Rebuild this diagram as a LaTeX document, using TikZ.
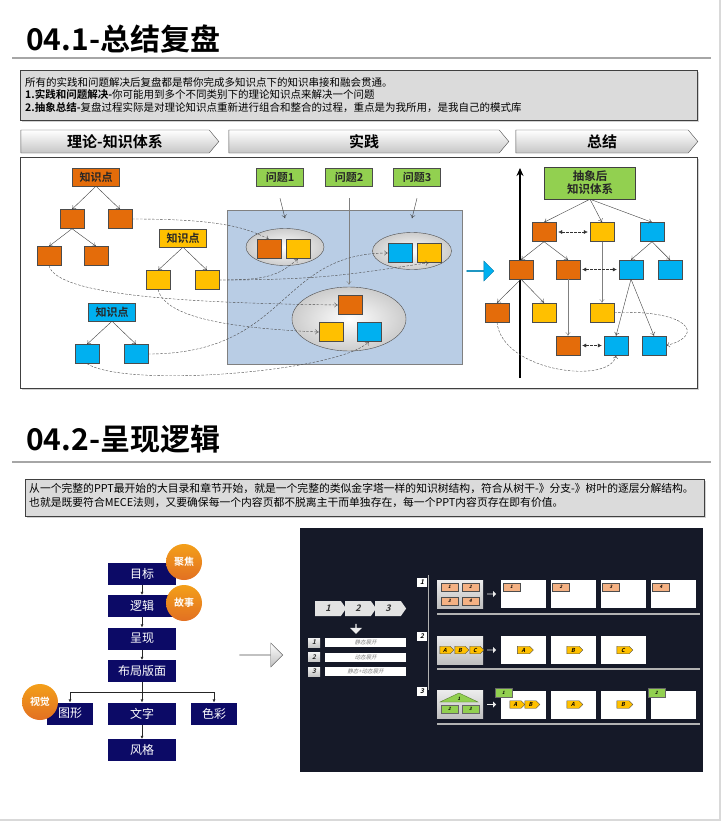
\documentclass[tikz,border=0pt]{standalone}
\usepackage{fontspec}
\setmainfont{Noto Sans CJK SC}[BoldFont={Noto Sans CJK SC Bold}]
\newfontfamily\slfont{Noto Sans CJK SC Bold}[FakeSlant=0.25]
\newfontfamily\slthin{Noto Sans CJK SC}[FakeSlant=0.25]
\usetikzlibrary{arrows.meta,shapes.geometric,shapes.symbols,shapes.arrows,shadows}

\definecolor{korange}{RGB}{228,108,10}
\definecolor{kyellow}{RGB}{255,192,0}
\definecolor{kblue}{RGB}{0,176,240}
\definecolor{kgreen}{RGB}{146,208,80}
\definecolor{kpanel}{RGB}{185,205,229}
\definecolor{knavy}{RGB}{12,10,102}
\definecolor{kdark}{RGB}{21,25,40}
\definecolor{ksalmon}{RGB}{244,177,131}
\definecolor{kcircle}{RGB}{238,118,36}

\tikzset{
	notebox/.style={draw=black!75, fill=gray!28, inner sep=0, drop shadow={shadow xshift=1.5pt, shadow yshift=-1.5pt, opacity=.35}},
	hdr/.style={signal, signal to=east, signal pointer angle=100, draw=black!70, top color=white, bottom color=gray!45, minimum height=23, inner sep=0, font=\fontsize{15}{15}\selectfont\bfseries},
	kbox/.style={draw=black!70, minimum width=24, minimum height=19, inner sep=0},
	klabel/.style={draw=black!70, minimum width=47, minimum height=18, inner sep=0, text=black!85, font=\fontsize{11}{11}\selectfont\bfseries},
	treearr/.style={-{To[length=3.5pt,width=5pt]}, black!75, thin},
	dlink/.style={dash pattern=on 2.5pt off 1.5pt, black!70, thin, -{To[length=3.5pt,width=5pt]}},
	dbl/.style={dash pattern=on 2.5pt off 1.5pt, black!80, thin, {Latex[length=4pt,width=4pt]}-{Latex[length=4pt,width=4pt]}, shorten >=2pt, shorten <=2pt},
	fbox/.style={fill=knavy, text=white, minimum width=68, minimum height=22, inner sep=0, font=\fontsize{12}{12}\selectfont},
	farr/.style={-{Latex[length=3pt,width=3pt]}, black!85, thin},
	circ/.style={circle, top color=kcircle!70!yellow, bottom color=kcircle!95!black, minimum size=36, inner sep=0, text=white, font=\fontsize{10}{10}\selectfont\bfseries},
	chev/.style={signal, signal to=east, signal pointer angle=110, fill=gray!22, minimum width=31, minimum height=15, inner sep=0, text=black!80, font=\fontsize{9}{9}\slfont},
	numb/.style={top color=gray!10, bottom color=gray!45, minimum width=12, minimum height=9, inner sep=0, text=black!85, font=\fontsize{6.5}{6.5}\slfont},
	bar/.style={fill=white, minimum width=81, minimum height=9, inner sep=0, text=gray, font=\fontsize{5.5}{5.5}\slthin},
	src/.style={top color=gray!15, bottom color=gray!50, minimum width=46, minimum height=28, inner sep=0},
	card/.style={fill=white, minimum width=45, minimum height=28, inner sep=0},
	stag/.style={fill=ksalmon, draw=black!70, minimum width=17, minimum height=8, inner sep=0, font=\fontsize{4.5}{4.5}\slfont},
	ytag/.style={signal, signal to=east, fill=kyellow, draw=black!70, minimum width=16, minimum height=7.5, inner sep=0, font=\fontsize{5.5}{5.5}\slfont},
	gtag/.style={fill=kgreen, draw=black!60, minimum width=17, minimum height=8.5, inner sep=0, font=\fontsize{4.5}{4.5}\slfont},
	sarr/.style={single arrow, fill=gray!15, minimum width=6, minimum height=9, single arrow head extend=1.5, inner sep=0}
}

\begin{document}
\begin{tikzpicture}[x=1pt,y=-1pt]
	\useasboundingbox (0,0) rectangle (724,822);
	\fill[white] (0,0) rectangle (724,822);
	\draw[gray!30, line width=2] (720,0) -- (720,820) -- (0,820);

	% 04.1
	\node[anchor=west, inner sep=0, font=\fontsize{30}{30}\selectfont\bfseries] (t1) at (26,39) {04.1-总结复盘};
	\draw[gray!70, line width=1.5] (12,58) -- (711,58);
	\node[notebox, minimum width=677, minimum height=50] (nb1) at (358.5,95) {};
	\node[anchor=west, align=left, inner sep=0, font=\fontsize{10.5}{12.5}\selectfont] (nt1) at (25,95)
		{所有的实践和问题解决后复盘都是帮你完成多知识点下的知识串接和融会贯通。\\
		\textbf{1.实践和问题解决-}你可能用到多个不同类别下的理论知识点来解决一个问题\\
		\textbf{2.抽象总结-}复盘过程实际是对理论知识点重新进行组合和整合的过程，重点是为我所用，是我自己的模式库};

	\node[hdr, minimum width=198] (h1) at (115,141.5) {理论-知识体系};
	\node[hdr, minimum width=280] (h2) at (364,141.5) {实践};
	\node[hdr, minimum width=182] (h3) at (602,141.5) {总结};
	\node[draw=black!75, fill=white, inner sep=0, minimum width=677, minimum height=231, drop shadow={shadow xshift=1.5pt, shadow yshift=-1.5pt, opacity=.35}] (bb) at (358.5,272.5) {};

	\node[klabel, fill=korange] (ko) at (96,177) {知识点};
	\node[kbox, fill=korange] (ko1) at (72,219) {};
	\node[kbox, fill=korange] (ko2) at (120,219) {};
	\node[kbox, fill=korange] (ko3) at (49,256) {};
	\node[kbox, fill=korange] (ko4) at (96,256) {};
	\node[klabel, fill=kyellow] (ky) at (183,238) {知识点};
	\node[kbox, fill=kyellow] (ky1) at (158,280) {};
	\node[kbox, fill=kyellow] (ky2) at (207,280) {};
	\node[klabel, fill=kblue] (kb) at (112,312) {知识点};
	\node[kbox, fill=kblue] (kb1) at (87,354) {};
	\node[kbox, fill=kblue] (kb2) at (136,354) {};
	\draw[treearr] (ko.south) -- (ko1.north);
	\draw[treearr] (ko.south) -- (ko2.north);
	\draw[treearr] (ko1.south) -- (ko3.north);
	\draw[treearr] (ko1.south) -- (ko4.north);
	\draw[treearr] (ky.south) -- (ky1.north);
	\draw[treearr] (ky.south) -- (ky2.north);
	\draw[treearr] (kb.south) -- (kb1.north);
	\draw[treearr] (kb.south) -- (kb2.north);

	\node[draw=gray, fill=kpanel, inner sep=0, minimum width=235, minimum height=154] (pnl) at (344.5,287) {};
	\node[klabel, fill=kgreen] (q1) at (280,177) {问题1};
	\node[klabel, fill=kgreen] (q2) at (349,177) {问题2};
	\node[klabel, fill=kgreen] (q3) at (417,177) {问题3};
	\node[ellipse, draw=black!70, inner color=white, outer color=gray!40, minimum width=78, minimum height=37] (e1) at (285,247) {};
	\node[ellipse, draw=black!70, inner color=white, outer color=gray!40, minimum width=79, minimum height=37] (e2) at (412,251) {};
	\node[ellipse, draw=black!70, inner color=white, outer color=gray!40, minimum width=114, minimum height=64] (e3) at (349,319) {};
	\node[kbox, fill=korange] (p1o) at (269,249) {};
	\node[kbox, fill=kyellow] (p1y) at (298,249) {};
	\node[kbox, fill=kblue] (p2b) at (400,253) {};
	\node[kbox, fill=kyellow] (p2y) at (429,253) {};
	\node[kbox, fill=korange] (p3o) at (350,305) {};
	\node[kbox, fill=kyellow] (p3y) at (331,332) {};
	\node[kbox, fill=kblue] (p3b) at (369,332) {};
	\draw[treearr] ([yshift=-12]q1.south) -- ([yshift=10]e1.north);
	\draw[treearr] ([yshift=-12]q3.south) -- ([yshift=14]e2.north);
	\draw[treearr, black!50] ([yshift=-12]q2.south) -- ([yshift=2]e3.north);

	\draw[dlink] (ko2.east) .. controls +(95,0) and +(-20,-10) .. (p1o.north);
	\draw[dlink] (ky2.east) .. controls +(45,0) and +(-20,18) .. (p1y.south);
	\draw[dlink] (ky2.east) .. controls +(110,0) and +(-70,10) .. (p2y.south);
	\draw[dlink] (ko3.south) .. controls +(8,30) and +(-150,-2) .. (p3o.west);
	\draw[dlink] (ky1.south) .. controls +(8,28) and +(-90,-4) .. (p3y.west);
	\draw[dlink] (kb2.east) .. controls +(140,0) and +(-110,0) .. (p2b.west);
	\draw[dlink] (kb1.south) .. controls +(40,25) and +(-30,30) .. (p3b.south);

	\node[single arrow, fill=kblue, draw=kblue!70!black, minimum width=20, minimum height=27, single arrow head extend=3, inner sep=0] (barr) at (480,271) {};

	\coordinate (axb) at (520,378);
	\coordinate (axt) at (520,168);
	\draw[-{Stealth[length=8pt,width=7pt]}, line width=2.5] (axb) -- (axt);
	\node[draw=black!75, fill=kgreen, minimum width=91, minimum height=32, inner sep=0, align=center, text=black!85, font=\fontsize{11.5}{13}\selectfont\bfseries] (abs) at (590,183) {抽象后\\知识体系};
	\foreach \n/\c/\x/\y in {r1o/korange/544/232, r1y/kyellow/602/232, r1b/kblue/652/232,
		r2o/korange/521/269.5, r2p/korange/568/269.5, r2b/kblue/631/269.5, r2c/kblue/670/269.5,
		r3o/korange/497/312.5, r3y/kyellow/544/312.5, r3z/kyellow/602/312.5,
		r4o/korange/568/345.5, r4b/kblue/616/345.5, r4c/kblue/654/345.5}
		\node[kbox, fill=\c] (\n) at (\x,\y) {};
	\draw[treearr] (abs.south) -- (r1o.north);
	\draw[treearr] (abs.south) -- (r1y.north);
	\draw[treearr] (abs.south) -- (r1b.north);
	\draw[treearr] (r1o.south) -- (r2o.north);
	\draw[treearr] (r1o.south) -- (r2p.north);
	\draw[treearr] (r1b.south) -- (r2b.north);
	\draw[treearr] (r1b.south) -- (r2c.north);
	\draw[treearr] (r2o.south) -- (r3o.north);
	\draw[treearr] (r2o.south) -- (r3y.north);
	\draw[treearr] (r2b.south) -- (r4b.north);
	\draw[treearr] (r2b.south) -- (r4c.north);
	\draw[treearr, black!50] (r1y) -- (r3z);
	\draw[treearr, black!50] (r2p) -- (r4o);
	\draw[dbl] (r1o) -- (r1y);
	\draw[dbl] (r2p) -- (r2b);
	\draw[dbl] (r4o) -- (r4b);
	\draw[dlink] (r3z.east) .. controls +(75,-3) and +(40,-10) .. (r4c.east);
	\draw[dlink] (r3o.south) .. controls +(5,50) and +(-5,30) .. (r4b.south);

	% 04.2
	\node[anchor=west, inner sep=0, font=\fontsize{30}{30}\selectfont\bfseries] (t2) at (26,439) {04.2-呈现逻辑};
	\draw[gray!70, line width=1.5] (12,462) -- (711,462);
	\node[notebox, minimum width=679, minimum height=37] (nb2) at (364.5,497.5) {};
	\node[anchor=west, align=left, inner sep=0, font=\fontsize{10.8}{14}\selectfont] (nt2) at (29,495)
		{从一个完整的PPT最开始的大目录和章节开始，就是一个完整的类似金字塔一样的知识树结构，符合从树干-》分支-》树叶的逐层分解结构。\\
		也就是既要符合MECE法则，又要确保每一个内容页都不脱离主干而单独存在，每一个PPT内容页存在即有价值。};

	\node[fbox] (f1) at (142,573.5) {目标};
	\node[fbox] (f2) at (142,606) {逻辑};
	\node[fbox] (f3) at (142,638.5) {呈现};
	\node[fbox] (f4) at (142,671) {布局版面};
	\node[fbox, minimum width=46] (f5) at (70,713.5) {图形};
	\node[fbox] (f6) at (142,713.5) {文字};
	\node[fbox, minimum width=46] (f7) at (214,713.5) {色彩};
	\node[fbox] (f8) at (142,750) {风格};
	\coordinate (fj) at (142,692);
	\draw[farr] (f1) -- (f2);
	\draw[farr] (f2) -- (f3);
	\draw[farr] (f3) -- (f4);
	\draw[farr] (f6) -- (f8);
	\draw[black!85, thin] (f4.south) -- (fj);
	\draw[farr] (fj) -- (f6.north);
	\draw[farr] (fj) -| (f5.north);
	\draw[farr] (fj) -| (f7.north);
	\node[circ] (c1) at (184,562) {聚焦};
	\node[circ] (c2) at (184,603) {故事};
	\node[circ] (c3) at (40,702) {视觉};
	\node[single arrow, draw=black!60, top color=white, bottom color=gray!50, minimum width=24, minimum height=43, single arrow head extend=5, inner sep=0] (garr) at (261,655) {};

	\node[fill=kdark, inner sep=0, minimum width=403, minimum height=244] (dpan) at (501.5,650) {};
	\node[chev] (ch1) at (328,608.5) {1};
	\node[chev] (ch2) at (358,608.5) {2};
	\node[chev] (ch3) at (388,608.5) {3};
	\node[single arrow, shape border rotate=270, fill=gray!15, minimum width=12, minimum height=10, single arrow head extend=2, inner sep=0] (dn) at (356,628.5) {};
	\foreach \i/\t/\y in {1/静态展开/642.5, 2/动态展开/657, 3/静态+动态展开/671.5} {
		\node[numb] (n\i) at (314,\y) {\i};
		\node[bar] (b\i) at (365.5,\y) {\t};
	}
	\coordinate (vt) at (428,575);
	\coordinate (vb) at (428,690);
	\draw[gray!60, line width=1] (vt) -- (vb);
	\foreach \i/\y in {1/582.5, 2/636.5, 3/691.5}
		\node[fill=white, minimum width=10, minimum height=9, inner sep=0, font=\fontsize{6.5}{6.5}\slfont] (v\i) at (422,\y) {\i};

	% row 1
	\node[src] (s1) at (460,594) {};
	\foreach \i/\x/\y in {1/449.5/587, 2/470.5/587, 3/449.5/601, 4/470.5/601}
		\node[stag] (s1t\i) at (\x,\y) {\i};
	\node[sarr] (a1) at (491.5,594) {};
	\foreach \i/\x in {1/523.5, 2/573, 3/623, 4/673} {
		\node[card] (c1\i) at (\x,594) {};
		\node[stag, anchor=north west] (ct1\i) at ([xshift=2, yshift=-3]c1\i.north west) {\i};
	}
	\draw[gray!60, line width=1.2] (437,614) -- (700,614);

	% row 2
	\node[src] (s2) at (460,650) {};
	\foreach \i/\t/\x in {1/A/445, 2/B/460, 3/C/475}
		\node[ytag, minimum width=14] (s2t\i) at (\x,650) {\t};
	\node[sarr] (a2) at (491.5,650) {};
	\foreach \i/\t/\x in {1/A/523.5, 2/B/573, 3/C/623} {
		\node[card] (c2\i) at (\x,650) {};
		\node[ytag] (ct2\i) at (\x,650) {\t};
	}
	\draw[gray!60, line width=1.2] (437,669) -- (700,669);

	% row 3
	\node[src] (s3) at (460,704.5) {};
	\filldraw[fill=kgreen, draw=kgreen!60!black] (440,702) -- (459,693) -- (478,702) -- cycle;
	\node[inner sep=0, font=\fontsize{4.5}{4.5}\slfont] (s3t1) at (459,699) {1};
	\node[gtag] (s3t2) at (449.5,709) {2};
	\node[gtag] (s3t3) at (470.5,709) {3};
	\node[sarr] (a3) at (491.5,704.5) {};
	\foreach \i/\x in {1/523.5, 2/573, 3/623, 4/673}
		\node[card] (c3\i) at (\x,704.5) {};
	\node[ytag, minimum width=15] (ct31) at (515.5,704.5) {A};
	\node[ytag, minimum width=15] (ct32) at (530.5,704.5) {B};
	\node[ytag] (ct33) at (573,704.5) {A};
	\node[ytag] (ct34) at (623,704.5) {B};
	\node[gtag] (g31) at (503.5,692.5) {1};
	\node[gtag] (g32) at (656.5,692.5) {2};
	\draw[gray!60, line width=1.2] (437,724) -- (700,724);
\end{tikzpicture}
\end{document}
